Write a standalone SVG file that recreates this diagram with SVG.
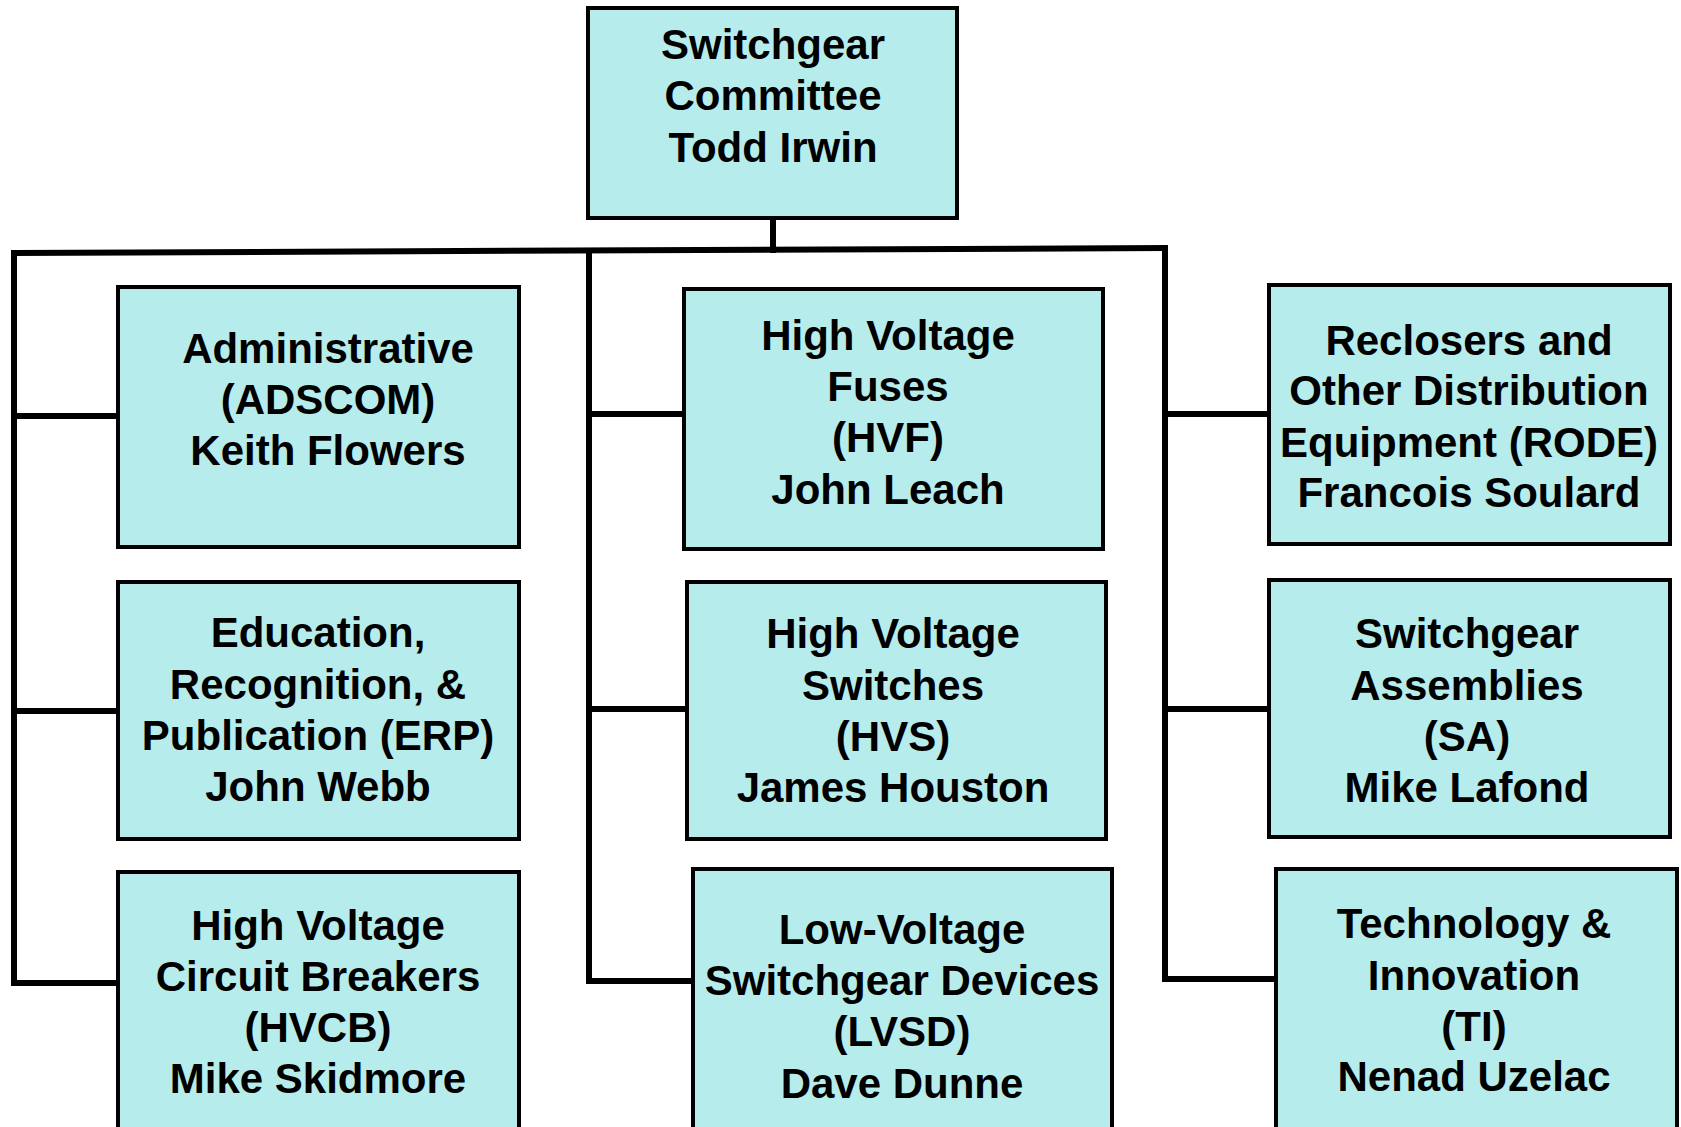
<svg xmlns="http://www.w3.org/2000/svg" width="1681" height="1127" viewBox="0 0 1681 1127">
<style>
.box{fill:#B7ECEC;stroke:#000;stroke-width:4}
.t{font-family:"Liberation Sans",Arial,sans-serif;font-weight:bold;font-size:42px;fill:#000;text-anchor:middle}
.c{fill:none;stroke:#000;stroke-width:6;stroke-linecap:square}
</style>
<rect width="1681" height="1127" fill="#fff"/>
<g id="connectors">
<path class="c" d="M773,218 V250"/>
<path class="c" d="M14,253 L1165,248"/>
<path class="c" d="M14,253 V983 M14,416 H118 M14,711 H118 M14,983 H118"/>
<path class="c" d="M589,252 V981 M589,414 H692 M589,709 H692 M589,981 H693"/>
<path class="c" d="M1165,248 V979 M1165,414 H1269 M1165,709 H1269 M1165,979 H1276"/>
</g>
<g id="n-top">
<rect class="box" x="588" y="8" width="369" height="210"/>
<text class="t" x="773" y="59">Switchgear</text>
<text class="t" x="773" y="110">Committee</text>
<text class="t" x="773" y="162">Todd Irwin</text>
</g>
<g id="n-adscom">
<rect class="box" x="118" y="287" width="401" height="260"/>
<text class="t" x="328" y="363">Administrative</text>
<text class="t" x="328" y="414">(ADSCOM)</text>
<text class="t" x="328" y="465">Keith Flowers</text>
</g>
<g id="n-erp">
<rect class="box" x="118" y="582" width="401" height="257"/>
<text class="t" x="318" y="647">Education,</text>
<text class="t" x="318" y="699">Recognition, &amp;</text>
<text class="t" x="318" y="750">Publication (ERP)</text>
<text class="t" x="318" y="801">John Webb</text>
</g>
<g id="n-hvcb">
<rect class="box" x="118" y="872" width="401" height="270"/>
<text class="t" x="318" y="940">High Voltage</text>
<text class="t" x="318" y="991">Circuit Breakers</text>
<text class="t" x="318" y="1042">(HVCB)</text>
<text class="t" x="318" y="1093">Mike Skidmore</text>
</g>
<g id="n-hvf">
<rect class="box" x="684" y="289" width="419" height="260"/>
<text class="t" x="888" y="350">High Voltage</text>
<text class="t" x="888" y="401">Fuses</text>
<text class="t" x="888" y="452">(HVF)</text>
<text class="t" x="888" y="504">John Leach</text>
</g>
<g id="n-hvs">
<rect class="box" x="687" y="582" width="419" height="257"/>
<text class="t" x="893" y="648">High Voltage</text>
<text class="t" x="893" y="700">Switches</text>
<text class="t" x="893" y="751">(HVS)</text>
<text class="t" x="893" y="802">James Houston</text>
</g>
<g id="n-lvsd">
<rect class="box" x="693" y="869" width="419" height="270"/>
<text class="t" x="902" y="944">Low-Voltage</text>
<text class="t" x="902" y="995">Switchgear Devices</text>
<text class="t" x="902" y="1046">(LVSD)</text>
<text class="t" x="902" y="1098">Dave Dunne</text>
</g>
<g id="n-rode">
<rect class="box" x="1269" y="285" width="401" height="259"/>
<text class="t" x="1469" y="355">Reclosers and</text>
<text class="t" x="1469" y="405">Other Distribution</text>
<text class="t" x="1469" y="457">Equipment (RODE)</text>
<text class="t" x="1469" y="507">Francois Soulard</text>
</g>
<g id="n-sa">
<rect class="box" x="1269" y="580" width="401" height="257"/>
<text class="t" x="1467" y="648">Switchgear</text>
<text class="t" x="1467" y="700">Assemblies</text>
<text class="t" x="1467" y="751">(SA)</text>
<text class="t" x="1467" y="802">Mike Lafond</text>
</g>
<g id="n-ti">
<rect class="box" x="1276" y="869" width="401" height="270"/>
<text class="t" x="1474" y="938">Technology &amp;</text>
<text class="t" x="1474" y="990">Innovation</text>
<text class="t" x="1474" y="1041">(TI)</text>
<text class="t" x="1474" y="1091">Nenad Uzelac</text>
</g>
</svg>
